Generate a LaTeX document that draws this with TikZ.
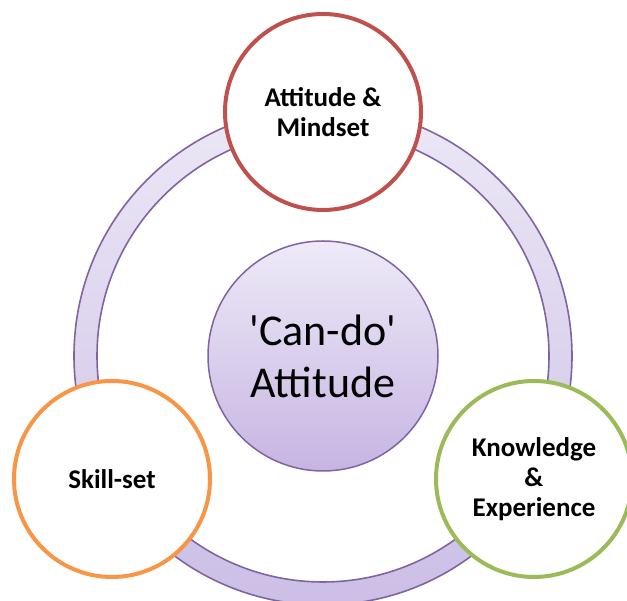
\documentclass[tikz,border=0pt]{standalone}
\usepackage{fontspec}
\setmainfont{Carlito}
\usepackage{tikz}

\definecolor{ringline}{HTML}{8064A2}
\definecolor{ringtop}{HTML}{ECE8F6}
\definecolor{ringbottom}{HTML}{CCBEE6}
\definecolor{hubtop}{HTML}{EEEAF8}
\definecolor{hubbottom}{HTML}{C6B5E2}
\definecolor{mindred}{HTML}{C0504D}
\definecolor{skillorange}{HTML}{F79646}
\definecolor{knowgreen}{HTML}{9BBB59}

\begin{document}
\begin{tikzpicture}[x=1pt,y=1pt,
  petal/.style={circle,draw,line width=4pt,fill=white,minimum size=196pt,inner sep=0pt,
    align=center,font=\fontsize{27}{30}\selectfont\bfseries},
  hub/.style={circle,draw=ringline,line width=1.5pt,top color=hubtop,bottom color=hubbottom,
    minimum size=230pt,inner sep=0pt,align=center,font=\fontsize{44}{52}\selectfont}]
\useasboundingbox (0,0) rectangle (627,601);
\coordinate (centre) at (323,245);
% the ring behind everything
\draw[ringline,line width=1.6pt,top color=ringtop,bottom color=ringbottom,even odd rule]
  (centre) circle (249pt) (centre) circle (226pt);
\node[hub] (cando) at (centre) {\textquotesingle Can-do\textquotesingle\\Attitude};
\node[petal,draw=mindred] (mindset) at (323,489) {Attitude \&\\Mindset};
\node[petal,draw=skillorange] (skills) at (112,122) {Skill-set};
\node[petal,draw=knowgreen] (knowhow) at (534,122) {Knowledge\\\&\\Experience};
\end{tikzpicture}
\end{document}
